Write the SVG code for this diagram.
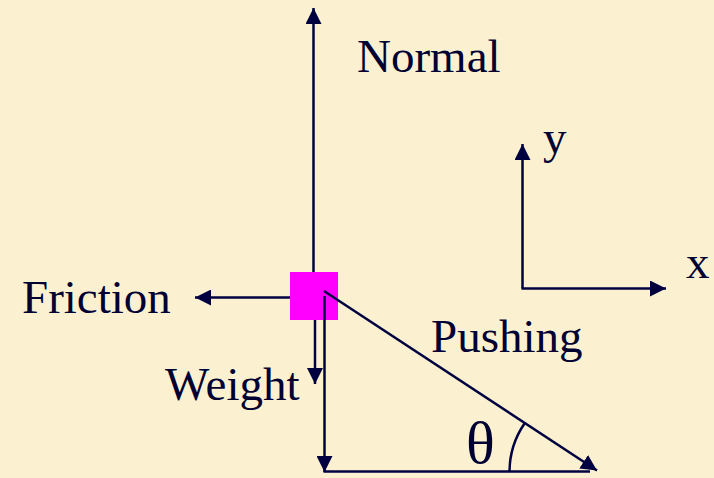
<svg xmlns="http://www.w3.org/2000/svg" width="714" height="478" viewBox="0 0 714 478">
<style>
.ln{stroke:#000040;stroke-width:2.5;fill:none}
.t{font-family:"Liberation Serif","Times New Roman",serif;font-size:47px;fill:#000033}
</style>
<defs>
<marker id="ah" viewBox="0 0 16 16" refX="16" refY="8" markerWidth="16" markerHeight="16" markerUnits="userSpaceOnUse" orient="auto">
<path d="M0,0 L16,8 L0,16 Z" fill="#000040"/>
</marker>
</defs>
<rect width="714" height="478" fill="#FBF1D1"/>
<g id="box">
<rect x="290" y="272" width="48" height="48" fill="#FF00FF"/>
</g>
<g id="connectors">
<line class="ln" x1="313.5" y1="272" x2="313.5" y2="8" marker-end="url(#ah)"/>
<line class="ln" x1="290" y1="297.5" x2="195" y2="297.5" marker-end="url(#ah)"/>
<line class="ln" x1="315" y1="320" x2="315" y2="384" marker-end="url(#ah)"/>
<line class="ln" x1="324.5" y1="296" x2="324.5" y2="472" marker-end="url(#ah)"/>
<line class="ln" x1="323.5" y1="471.5" x2="590" y2="471.5"/>
<line class="ln" x1="324" y1="291" x2="597" y2="470.5" marker-end="url(#ah)"/>
<path class="ln" d="M509.5,471 A86,86 0 0 1 524.5,423.5" stroke-width="2"/>
<line class="ln" x1="522.5" y1="288.5" x2="522.5" y2="144" marker-end="url(#ah)"/>
<line class="ln" x1="521.5" y1="288.5" x2="666" y2="288.5" marker-end="url(#ah)"/>
</g>
<g id="labels">
<text class="t" x="357" y="72">Normal</text>
<text class="t" x="22" y="313">Friction</text>
<text class="t" x="431" y="352">Pushing</text>
<text class="t" x="165" y="400">Weight</text>
<text class="t" x="543" y="153">y</text>
<text class="t" x="686" y="278">x</text>
<text class="t" x="466" y="463" style="font-size:60px">θ</text>
</g>
</svg>
